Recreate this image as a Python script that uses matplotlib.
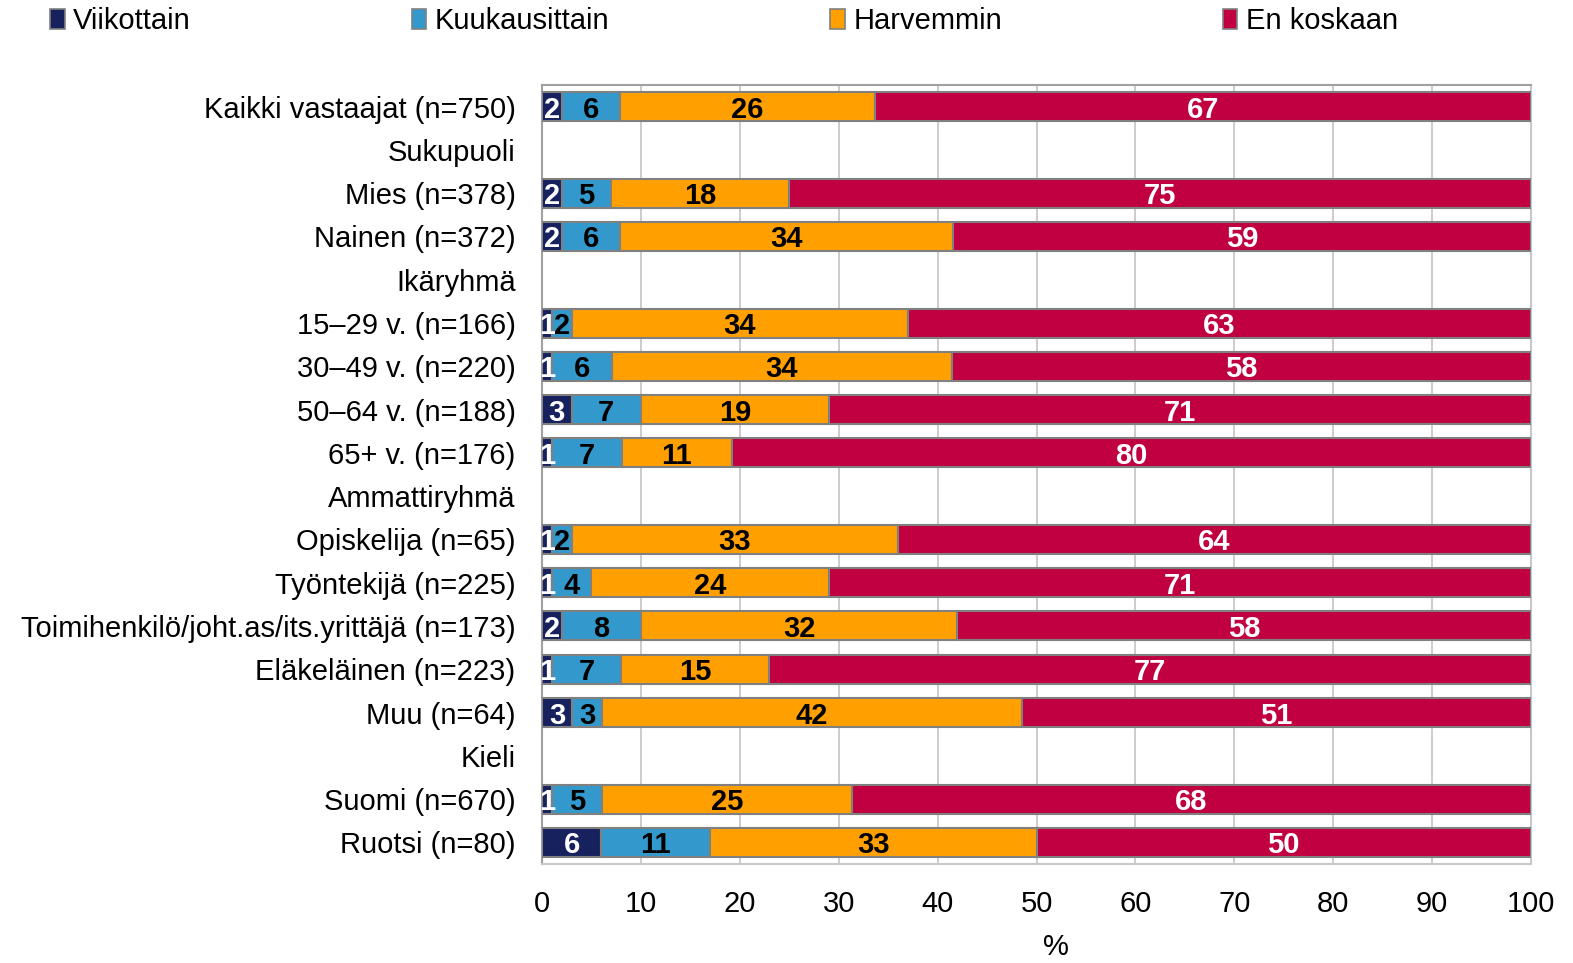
import numpy as np
import matplotlib
matplotlib.use("Agg")
import matplotlib.pyplot as plt
from matplotlib.patches import Patch

plt.rcParams['font.family'] = ['Liberation Sans', 'DejaVu Sans']

# Row labels, top to bottom (section headers have no bars)
categories = [
    "Kaikki vastaajat (n=750)",
    "Sukupuoli",
    "Mies (n=378)",
    "Nainen (n=372)",
    "Ikäryhmä",
    "15–29 v. (n=166)",
    "30–49 v. (n=220)",
    "50–64 v. (n=188)",
    "65+ v. (n=176)",
    "Ammattiryhmä",
    "Opiskelija (n=65)",
    "Työntekijä (n=225)",
    "Toimihenkilö/joht.as/its.yrittäjä (n=173)",
    "Eläkeläinen (n=223)",
    "Muu (n=64)",
    "Kieli",
    "Suomi (n=670)",
    "Ruotsi (n=80)",
]

series_names = ["Viikottain", "Kuukausittain", "Harvemmin", "En koskaan"]

viikottain    = [2, None, 2, 2, None, 1, 1, 3, 1, None, 1, 1, 2, 1, 3, None, 1, 6]
kuukausittain = [6, None, 5, 6, None, 2, 6, 7, 7, None, 2, 4, 8, 7, 3, None, 5, 11]
harvemmin     = [26, None, 18, 34, None, 34, 34, 19, 11, None, 33, 24, 32, 15, 42, None, 25, 33]
en_koskaan    = [67, None, 75, 59, None, 63, 58, 71, 80, None, 64, 71, 58, 77, 51, None, 68, 50]

x_ticks = [0, 10, 20, 30, 40, 50, 60, 70, 80, 90, 100]

colors = ["#16215E", "#3399CC", "#FFA000", "#C00040"]
text_colors = ["white", "black", "black", "white"]

series = [viikottain, kuukausittain, harvemmin, en_koskaan]

# 100 % stacked: each row is scaled by its own total
vals = np.array([[np.nan if a is None else a for a in s] for s in series], dtype=float)
totals = np.nansum(vals, axis=0)
totals[totals == 0] = np.nan
shares = vals / totals * 100

fig = plt.figure(figsize=(15.73, 9.63), dpi=100)
ax = fig.add_axes([542 / 1573, 1 - 864 / 963, (1531 - 542) / 1573, (864 - 85) / 963])

y = np.arange(len(categories))
fs = 21

left = np.zeros(len(categories))
for k, (color, tcolor) in enumerate(zip(colors, text_colors)):
    v = shares[k]
    mask = ~np.isnan(v)
    ax.barh(y[mask], v[mask], left=left[mask], height=0.67, color=color,
            edgecolor="#808080", linewidth=1.5, zorder=3)
    for yi in y[mask]:
        ax.text(left[yi] + v[yi] / 2, yi, f"{int(vals[k, yi])}", ha="center",
                va="center_baseline", color=tcolor, fontsize=fs,
                fontweight="bold", zorder=4)
    left[mask] += v[mask]

ax.set_xlim(0, 100)
ax.set_ylim(len(categories) - 0.5, -0.5)
ax.set_xticks(x_ticks)
ax.set_yticks(y)
ax.set_yticklabels(categories)
ax.tick_params(axis="both", length=0, labelsize=fs)
ax.tick_params(axis="y", pad=19)
ax.tick_params(axis="x", pad=19)
ax.xaxis.grid(True, color="#C8C8C8", linewidth=1.3, zorder=0)
ax.set_axisbelow(True)
for s in ax.spines.values():
    s.set_color("#A0A0A0")
    s.set_linewidth(1.5)
ax.spines["bottom"].set_color("#C8C8C8")
ax.spines["right"].set_color("#C8C8C8")

ax.set_xlabel("%", fontsize=fs)
ax.xaxis.set_label_coords(0.52, -0.089)

handles = [Patch(facecolor=c, edgecolor="#808080", linewidth=1.2) for c in colors]
fig.legend(handles, series_names, loc="center left", ncol=4, mode="expand",
           bbox_to_anchor=(50 / 1573, 1 - 21 / 963, (1398 - 50) / 1573, 0.0),
           frameon=False, fontsize=fs, handlelength=0.5, handleheight=0.7,
           handletextpad=0.3, borderaxespad=0, borderpad=0)

fig.savefig("out.png", dpi=100, facecolor="white")
